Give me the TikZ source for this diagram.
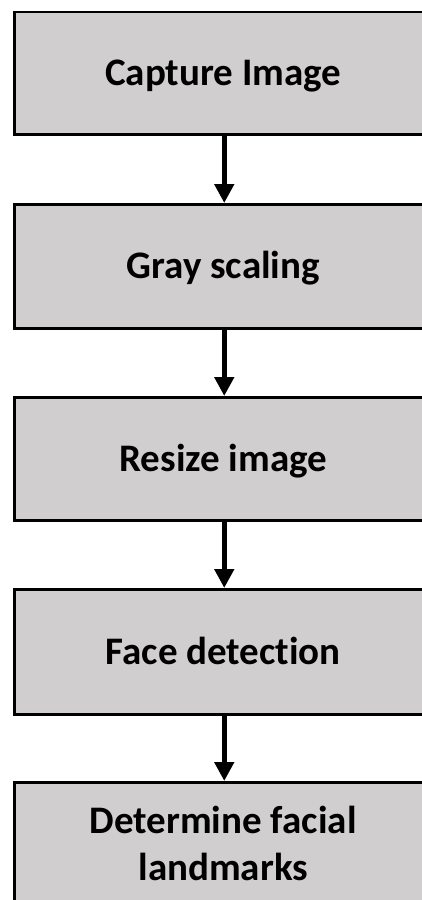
\documentclass[tikz,border=0pt]{standalone}
\usepackage{fontspec}
\setmainfont[Ligatures=NoCommon]{Carlito}
\usetikzlibrary{arrows.meta}
\definecolor{boxgray}{HTML}{D0CECE}
\begin{document}
\begin{tikzpicture}[x=1pt,y=-1pt,
  stepbox/.style={draw=black, line width=2.5pt, fill=boxgray, minimum width=418pt,
    inner sep=0pt, font=\fontsize{39}{47}\selectfont\bfseries, align=center,
    anchor=north west, text height=25pt, text depth=0pt},
  flow/.style={line width=5pt, -{Triangle[width=19pt,length=19pt]}}]
  \useasboundingbox (0,0) rectangle (422,900);
  \fill[white] (0,0) rectangle (422,900);
  \clip (0,0) rectangle (422,900);
  \node[stepbox, minimum height=122.5pt] (b1) at (13,10.5) {Capture Image};
  \node[stepbox, minimum height=124pt] (b2) at (13,203) {Gray scaling};
  \node[stepbox, minimum height=123pt] (b3) at (13,396) {Resize image};
  \node[stepbox, minimum height=125pt] (b4) at (13,588) {Face detection};
  \node[stepbox, minimum height=124pt, text height=72pt] (b5) at (13,781) {Determine facial\\landmarks};
  \draw[flow] ([xshift=1pt]b1.south) -- ([xshift=1pt]b2.north);
  \draw[flow] ([xshift=1pt]b2.south) -- ([xshift=1pt]b3.north);
  \draw[flow] ([xshift=1pt]b3.south) -- ([xshift=1pt]b4.north);
  \draw[flow] ([xshift=1pt]b4.south) -- ([xshift=1pt]b5.north);
\end{tikzpicture}
\end{document}
